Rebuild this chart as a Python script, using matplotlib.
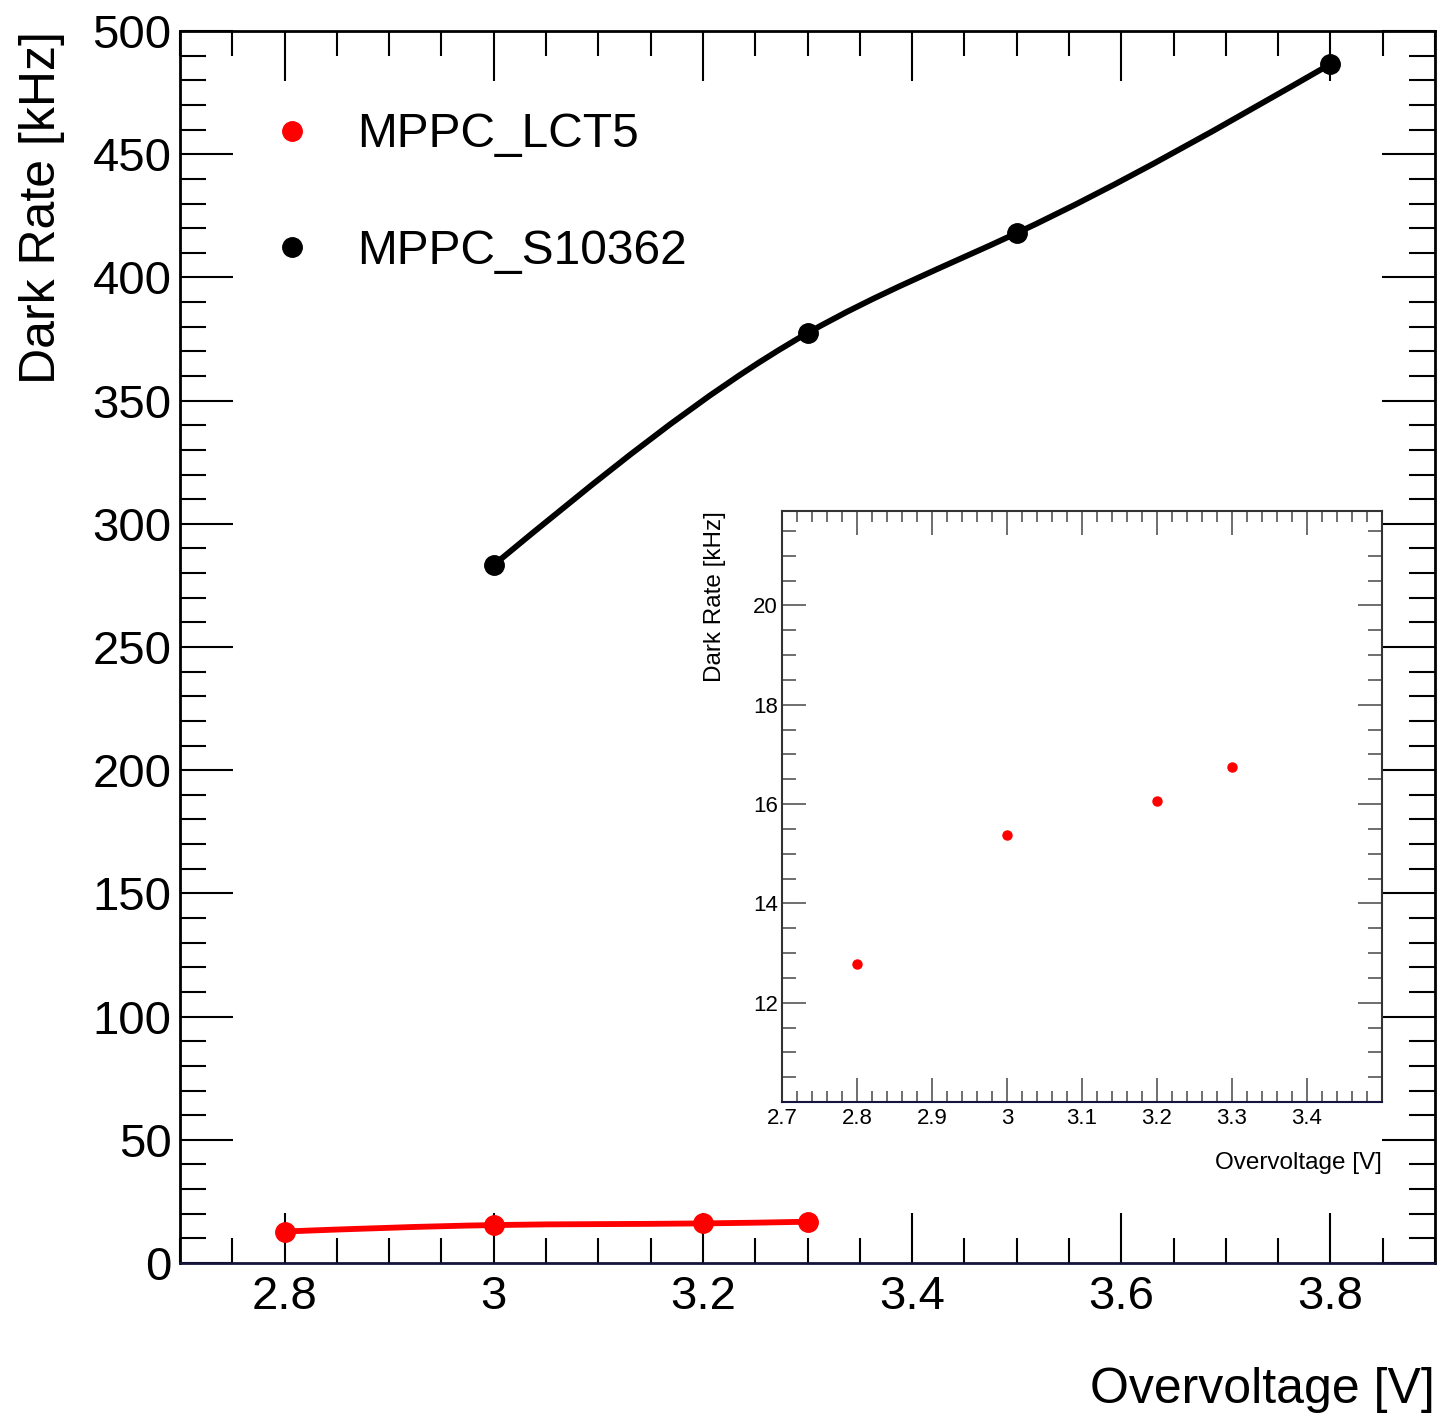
import numpy as np
import matplotlib
matplotlib.use('Agg')
import matplotlib.pyplot as plt
from matplotlib.path import Path
from matplotlib.patches import PathPatch
from matplotlib.lines import Line2D
from matplotlib.ticker import MultipleLocator

plt.rcParams['font.family'] = ['Liberation Sans', 'DejaVu Sans']

# datos
v_lct5 = [2.8, 3.0, 3.2, 3.3]
dr_lct5 = [12.77, 15.38, 16.06, 16.74]
v_s10362 = [3.0, 3.3, 3.5, 3.8]
dr_s10362 = [283.3, 377.4, 418.0, 486.6]
etiquetas = ['MPPC_LCT5', 'MPPC_S10362']


def curva_suave(ax, x, y, color, lw):
    # spline cubico natural dibujado como curvas de bezier (opcion "C" de ROOT)
    x = np.asarray(x, float)
    y = np.asarray(y, float)
    n = len(x)
    h = np.diff(x)
    d = np.diff(y) / h
    A = np.zeros((n, n))
    b = np.zeros(n)
    A[0, 0] = A[-1, -1] = 1.0
    for i in range(1, n - 1):
        A[i, i - 1] = h[i - 1]
        A[i, i] = 2 * (h[i - 1] + h[i])
        A[i, i + 1] = h[i]
        b[i] = 6 * (d[i] - d[i - 1])
    M = np.linalg.solve(A, b)
    m = np.zeros(n)
    m[:-1] = d - h * (2 * M[:-1] + M[1:]) / 6
    m[-1] = d[-1] + h[-1] * (M[-2] + 2 * M[-1]) / 6
    verts = [(x[0], y[0])]
    codes = [Path.MOVETO]
    for i in range(n - 1):
        verts += [(x[i] + h[i] / 3, y[i] + m[i] * h[i] / 3),
                  (x[i + 1] - h[i] / 3, y[i + 1] - m[i + 1] * h[i] / 3),
                  (x[i + 1], y[i + 1])]
        codes += [Path.CURVE4] * 3
    ax.add_patch(PathPatch(Path(verts, codes), fill=False, edgecolor=color,
                           lw=lw, capstyle='round', zorder=2))


fig = plt.figure(figsize=(14.55, 14.17), dpi=100)
ax = fig.add_axes([0.1237, 0.1087, 0.8626, 0.8694])

curva_suave(ax, v_lct5, dr_lct5, 'red', 4.2)
curva_suave(ax, v_s10362, dr_s10362, 'black', 4.2)
ax.plot(v_lct5, dr_lct5, 'o', color='red', ms=14, zorder=3)
ax.plot(v_s10362, dr_s10362, 'o', color='black', ms=14, zorder=3)

ax.set_xlim(2.7, 3.9)
ax.set_ylim(0, 500)
ax.xaxis.set_major_locator(MultipleLocator(0.2))
ax.xaxis.set_minor_locator(MultipleLocator(0.05))
ax.yaxis.set_major_locator(MultipleLocator(50))
ax.yaxis.set_minor_locator(MultipleLocator(10))
ax.xaxis.set_major_formatter(lambda t, pos: '%g' % round(t, 2))
ax.tick_params(which='both', direction='in', top=True, right=True,
               labelsize=34, width=1.5)
ax.tick_params(axis='x', which='major', length=36, pad=9)
ax.tick_params(axis='x', which='minor', length=18)
ax.tick_params(axis='y', which='major', length=38, pad=6)
ax.tick_params(axis='y', which='minor', length=19)
for s in ax.spines.values():
    s.set_linewidth(2)
ax.spines['bottom'].set_color('#14143c')

ax.set_xlabel('Overvoltage [V]', fontsize=36, loc='right', va='center')
ax.xaxis.set_label_coords(1.0, -0.103)
ax.set_ylabel('Dark Rate [kHz]', fontsize=36, loc='top', va='center')
ax.yaxis.set_label_coords(-0.110, 1.0)

manejadores = [Line2D([], [], ls='none', marker='o', ms=14, color='red'),
               Line2D([], [], ls='none', marker='o', ms=14, color='black')]
ax.legend(manejadores, etiquetas, loc='upper left', bbox_to_anchor=(0.0705, 0.934),
          frameon=False, fontsize=34.5, handlelength=1.0, handletextpad=0.85,
          labelspacing=1.5, borderpad=0, borderaxespad=0)

# inset con el detalle del LCT5
axi = fig.add_axes([0.5375, 0.2223, 0.4123, 0.4171])
axi.plot(v_lct5, dr_lct5, 'o', color='red', ms=6.5)
axi.set_xlim(2.7, 3.5)
axi.set_ylim(10, 21.9)
axi.xaxis.set_major_locator(MultipleLocator(0.1))
axi.xaxis.set_minor_locator(MultipleLocator(0.02))
axi.yaxis.set_major_locator(MultipleLocator(2))
axi.yaxis.set_minor_locator(MultipleLocator(0.5))
axi.xaxis.set_major_formatter(lambda t, pos: '' if t > 3.45 else '%g' % round(t, 1))
axi.yaxis.set_major_formatter(lambda t, pos: '' if t < 11 else '%g' % t)
axi.tick_params(which='both', direction='in', top=True, right=True,
                labelsize=16, width=1.2, color='#555555')
axi.tick_params(axis='both', which='major', length=17, pad=4)
axi.tick_params(axis='x', which='minor', length=8)
axi.tick_params(axis='y', which='minor', length=10)
axi.tick_params(axis='y', which='major', pad=3)
for s in axi.spines.values():
    s.set_linewidth(1.5)
    s.set_color('#333333')
axi.spines['bottom'].set_color('#14143c')
axi.set_xlabel('Overvoltage [V]', fontsize=17.5, loc='right', va='center')
axi.xaxis.set_label_coords(1.0, -0.103)
axi.set_ylabel('Dark Rate [kHz]', fontsize=17.5, loc='top', va='center')
axi.yaxis.set_label_coords(-0.112, 1.0)

plt.savefig('out.png', dpi=100)
